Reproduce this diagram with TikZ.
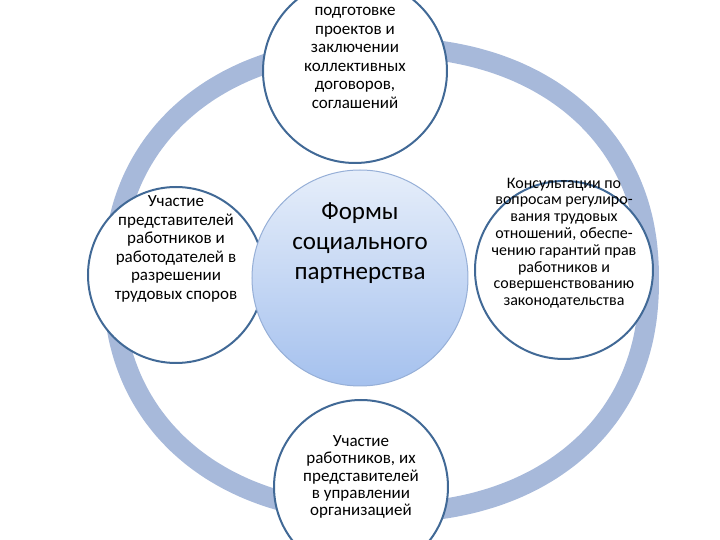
\documentclass[tikz,border=0pt]{standalone}
\usepackage{fontspec}
\setmainfont{Carlito}
\usetikzlibrary{positioning,shapes}
\definecolor{ringblue}{RGB}{167,185,218}
\definecolor{satblue}{RGB}{65,105,150}
\definecolor{hubline}{RGB}{150,175,215}
\definecolor{hubtop}{RGB}{230,238,250}
\definecolor{hubbot}{RGB}{165,193,238}

\begin{document}
\begin{tikzpicture}[
  x=0.5pt, y=-0.5pt,
  ringline/.style={draw=ringblue, line width=10pt},
  mysat/.style={draw=satblue, line width=1pt, circle, fill=white, minimum size=#1},
  myhub/.style={draw=hubline, line width=0.5pt, circle, top color=hubtop, bottom color=hubbot, minimum size=108pt},
  mytext/.style={align=center, inner sep=0pt, font=\fontsize{8.5}{9.3}\selectfont},
  mytitle/.style={align=center, inner sep=0pt, font=\fontsize{12.5}{15}\selectfont}
]
\useasboundingbox (0,0) rectangle (720,540);

% ring behind the circles
\draw[ringline] plot[domain=2.5:357.5, samples=72, smooth cycle]
  ({381+268*cos(\x)*abs(cos(\x))^(-0.1)}, {280+233*sin(\x)*abs(sin(\x))^(-0.1)});

\node[mysat=92pt] (top) at (355,71) {};
\node[mysat=88pt] (left) at (176,275) {};
\node[mysat=89pt] (right) at (564,270) {};
\node[mysat=87pt] (bottom) at (361,487) {};
\node[myhub] (hub) at (360,278) {};

\node[mytext] (tTop) at (355,58) {подготовке\\проектов и\\заключении\\коллективных\\договоров,\\соглашений};
\node[mytext] (tLeft) at (176,249) {Участие\\представителей\\работников и\\работодателей в\\разрешении\\трудовых споров};
\node[mytext, font=\fontsize{8}{8.4}\selectfont] (tRight) at (564,243) {Консультации по\\вопросам регулиро-\\вания трудовых\\отношений, обеспе-\\чению гарантий прав\\работников и\\совершенствованию\\законодательства};
\node[mytext, font=\fontsize{8.5}{8.6}\selectfont] (tBottom) at (361,477) {Участие\\работников, их\\представителей\\в управлении\\организацией};
\node[mytitle] (tHub) at (360,243) {Формы\\социального\\партнерства};

\end{tikzpicture}
\end{document}
